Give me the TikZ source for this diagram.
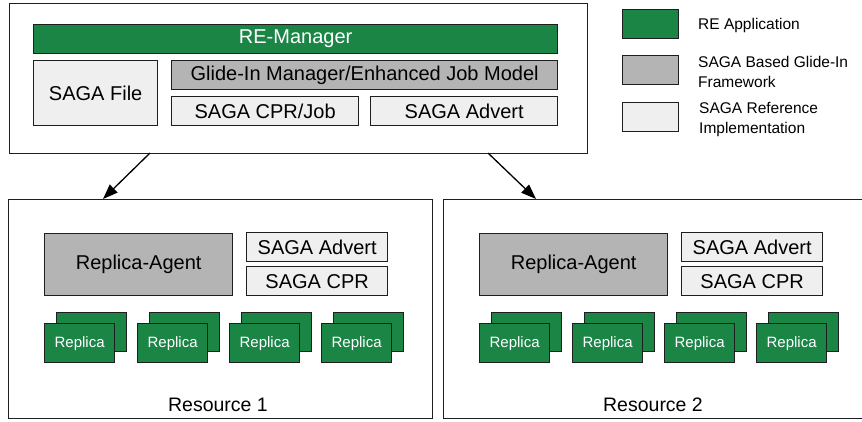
\documentclass[tikz,border=0pt]{standalone}
\usepackage{fontspec}
\setmainfont{Liberation Sans}
\usetikzlibrary{arrows.meta}
\definecolor{regreen}{RGB}{27,133,70}
\definecolor{glgray}{RGB}{180,180,180}
\definecolor{reflight}{RGB}{239,239,239}
\definecolor{edge}{RGB}{30,30,30}
\tikzset{
  base/.style={draw=edge, line width=1.3pt, inner sep=0pt, anchor=north west, font=\fontsize{20}{24}\selectfont},
  greenbox/.style={base, fill=regreen, text=white},
  graybox/.style={base, fill=glgray},
  lightbox/.style={base, fill=reflight},
  outerbox/.style={draw=edge, line width=1.3pt, fill=white, inner sep=0pt, anchor=north west},
  repbox/.style={base, fill=regreen, text=white, minimum width=70pt, minimum height=39pt, font=\fontsize{15}{18}\selectfont},
  legtext/.style={anchor=west, align=left, inner sep=0pt, font=\fontsize{15.5}{20}\selectfont},
  arr/.style={line width=1.3pt, -{Triangle[length=15pt,width=11pt]}}
}
\begin{document}
\begin{tikzpicture}[x=1pt,y=-1pt]
\clip (0,0) rectangle (862,421);
\fill[white] (0,0) rectangle (862,421);
% top box
\node[outerbox, minimum width=578pt, minimum height=150pt] (top) at (9,3) {};
\node[greenbox, minimum width=524pt, minimum height=29pt] (rem) at (33,24) {RE-Manager};
\node[lightbox, minimum width=124pt, minimum height=65pt] (sfile) at (33,60) {SAGA File};
\node[graybox, minimum width=386pt, minimum height=29pt] (glide) at (171,60) {Glide-In Manager/Enhanced Job Model};
\node[lightbox, minimum width=187pt, minimum height=29pt] (cprjob) at (171,96) {SAGA CPR/Job};
\node[lightbox, minimum width=187pt, minimum height=29pt] (advtop) at (370,96) {SAGA Advert};
% legend
\node[greenbox, minimum width=56pt, minimum height=29pt] (lg1) at (622,9) {};
\node[graybox, minimum width=56pt, minimum height=29pt] (lg2) at (622,55) {};
\node[lightbox, minimum width=56pt, minimum height=29pt] (lg3) at (622,102) {};
\node[legtext] (lt1) at (698,25) {RE Application};
\node[legtext] (lt2) at (698,72) {SAGA Based Glide-In\\Framework};
\node[legtext] (lt3) at (699,119.5) {SAGA Reference\\Implementation};
% resources
\foreach \r/\dx/\w in {1/0/424, 2/435/430} {
  \begin{scope}[xshift=\dx pt]
    \node[outerbox, minimum width=\w pt, minimum height=219pt] (res\r) at (8,199) {};
    \node[graybox, minimum width=188pt, minimum height=62pt] (agent\r) at (44,233) {Replica-Agent};
    \node[lightbox, minimum width=141pt, minimum height=29pt] (adv\r) at (246,232) {SAGA Advert};
    \node[lightbox, minimum width=141pt, minimum height=29pt] (cpr\r) at (246,266) {SAGA CPR};
    \foreach \i/\x in {1/44, 2/137, 3/229, 4/321} {
      \node[repbox] (back\r\i) at (\x+12,312) {};
      \node[repbox] (rep\r\i) at (\x,323) {Replica};
    }
    \node[inner sep=0pt, font=\fontsize{19.5}{24}\selectfont] (rlab\r) at (218,405) {Resource \r};
  \end{scope}
}
% arrows
\coordinate (a1s) at (150,153);
\coordinate (a1e) at (103,199);
\coordinate (a2s) at (488,153);
\coordinate (a2e) at (536,199);
\draw[arr] (a1s) -- (a1e);
\draw[arr] (a2s) -- (a2e);
\end{tikzpicture}
\end{document}
